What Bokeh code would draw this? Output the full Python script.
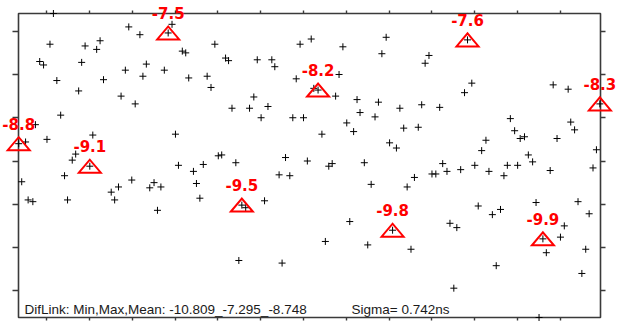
from bokeh.plotting import figure
from bokeh.models import (Range1d, FixedTicker, LinearAxis, ColumnDataSource,
                          CustomLabelingPolicy)
from bokeh.core.properties import value
from bokeh.embed import file_html
from bokeh.resources import INLINE

# epoch position (axis units) and DifLink value (ns)
x_vals = [3.5, 4.2, 5.1, 5.7, 6.8, 7.4, 8.4, 9.3, 10.1, 10.8,
          11.6, 12.4, 13.3, 14.2, 14.9, 16.0, 16.8, 17.5, 18.2, 19.0,
          20.1, 20.8, 21.7, 22.5, 23.3, 25.1, 25.9, 26.8, 27.4, 28.4,
          29.2, 29.9, 30.7, 31.8, 32.5, 33.3, 34.1, 35.1, 35.9, 36.7,
          37.5, 38.4, 39.3, 40.1, 40.8, 41.7, 42.5, 43.2, 44.3, 45.0,
          45.8, 46.6, 47.5, 48.4, 49.3, 50.1, 50.9, 51.8, 52.5, 53.3,
          54.2, 54.9, 55.6, 56.5, 57.4, 58.4, 59.2, 60.1, 60.9, 61.7,
          62.6, 63.3, 64.3, 65.0, 65.8, 66.8, 67.5, 68.3, 69.2, 70.0,
          70.9, 71.8, 72.4, 73.4, 74.3, 75.1, 75.9, 76.7, 77.5, 78.3,
          79.2, 80.1, 80.8, 81.7, 82.5, 83.2, 84.2, 85.0, 85.8, 86.7,
          87.5, 88.3, 89.3, 90.1, 90.8, 91.7, 92.5, 93.4, 94.2, 95.1,
          95.9, 96.8, 97.6, 98.4, 99.3, 100.0, 100.9, 101.8, 102.5, 103.5,
          104.2, 105.1, 105.8, 106.7, 107.6, 108.3, 109.3, 110.0, 110.8, 111.6,
          112.6, 113.3, 114.1, 115.0, 116.0, 116.8, 117.6, 118.3, 119.3, 120.0,
          120.6, 121.6, 122.5, 123.5, 124.3, 125.0, 125.9, 126.7, 127.6, 128.3,
          129.2, 130.0, 130.9, 131.8, 132.4, 133.3, 134.1, 135.0, 135.9, 136.7,
          137.6, 138.4, 139.2]
y_vals = [-8.80, -9.24, -8.78, -9.45, -9.47, -8.58, -7.85, -7.89, -8.75, -7.65,
          -7.295, -8.07, -8.47, -9.17, -9.45, -8.99, -8.92, -8.19, -7.86, -7.67,
          -9.06, -8.70, -7.71, -7.61, -8.06, -9.36, -9.45, -9.30, -8.25, -7.95,
          -7.45, -9.22, -8.34, -7.54, -8.02, -7.88, -9.31, -9.25, -9.57, -9.30,
          -7.95, -7.52, -7.42, -8.69, -9.05, -7.73, -7.75, -8.04, -9.12, -9.26,
          -9.43, -9.04, -8.02, -8.15, -7.65, -8.94, -8.93, -7.81, -7.84, -8.39,
          -9.02, -10.15, -9.51, -9.54, -8.39, -8.26, -7.83, -8.50, -9.46, -8.37,
          -7.83, -7.91, -9.16, -10.18, -8.96, -9.17, -8.50, -8.05, -7.65, -8.50,
          -9.00, -7.59, -8.16, -8.18, -8.69, -9.93, -9.06, -9.03, -8.25, -8.00,
          -7.68, -8.56, -9.70, -8.66, -8.29, -8.44, -9.02, -9.97, -9.27, -8.49,
          -8.32, -7.76, -7.57, -8.79, -9.80, -8.85, -8.39, -8.62, -9.30, -10.02,
          -9.19, -8.61, -8.35, -7.87, -7.78, -9.15, -9.15, -8.38, -9.03, -9.12,
          -9.72, -10.47, -9.77, -9.10, -8.21, -7.60, -8.10, -9.05, -9.52, -8.88,
          -8.76, -9.12, -9.62, -10.21, -9.56, -9.17, -9.05, -8.51, -8.65, -9.05,
          -8.74, -8.72, -8.93, -9.01, -9.48, -10.809, -9.90, -10.06, -9.11, -8.12,
          -8.74, -9.88, -9.75, -8.17, -8.55, -8.64, -9.47, -10.30, -10.02, -9.61,
          -9.08, -8.87, -8.34]
# indices of the labelled (triangle) epochs
marked = [0, 20, 41, 62, 83, 104, 125, 146, 162]

x_ticks = [10, 20, 30, 40, 50, 60, 70, 80, 90, 100, 110, 120, 130]
y_ticks = [-10.5, -10.0, -9.5, -9.0, -8.5, -8.0, -7.5]

stat_min, stat_max, stat_mean = -10.809, -7.295, -8.748
sigma = 0.742

X0, X1 = 3.45, 139.35
W, H = 622, 323
BL, BT, BR, BB = 18, 13, 22, 6
FW, FH = W - BL - BR, H - BT - BB
ux = (X1 - X0) / FW            # data units per pixel
uy = (stat_max - stat_min) / FH

# flat triangle outline around each labelled epoch
dx, dy = 11.0 * ux, 6.5 * uy
mx = [x_vals[i] for i in marked]
my = [y_vals[i] for i in marked]
tri = ColumnDataSource(dict(
    xs=[[x - dx, x + dx, x] for x in mx],
    ys=[[y - dy, y - dy, y + dy] for y in my],
))

src = ColumnDataSource(dict(x=x_vals, y=y_vals))
mk = ColumnDataSource(dict(x=mx, y=my, t=["%.1f" % v for v in my]))

p = figure(width=W, height=H, output_backend="svg", toolbar_location=None,
           x_range=Range1d(X0, X1), y_range=Range1d(stat_min, stat_max),
           x_axis_location=None, y_axis_location=None,
           min_border_left=BL, min_border_top=BT, min_border_right=BR,
           min_border_bottom=BB)
p.xgrid.visible = False
p.ygrid.visible = False
p.background_fill_color = "white"
p.border_fill_color = "white"
p.outline_line_color = "#3a3a3a"
p.outline_line_width = 1.6

def make_axis(ticks, out):
    ax = LinearAxis(ticker=FixedTicker(ticks=ticks))
    ax.axis_line_color = None
    ax.major_tick_in = 0
    ax.major_tick_out = out
    ax.major_tick_line_color = "#3a3a3a"
    ax.major_tick_line_width = 1.4
    ax.minor_tick_line_color = None
    ax.major_label_text_font_size = "0px"
    ax.major_label_standoff = 0
    ax.major_label_policy = CustomLabelingPolicy(code="return []")
    return ax

p.add_layout(make_axis(y_ticks, 6), "left")
p.add_layout(make_axis(y_ticks, 5), "right")
p.add_layout(make_axis(x_ticks, 3), "above")
p.add_layout(make_axis(x_ticks, 3), "below")

r1 = p.scatter("x", "y", source=src, marker="cross", size=7,
               line_color="black", line_width=1)
r1.level = "overlay"
r2 = p.patches("xs", "ys", source=tri, fill_color=None,
               line_color="#ff0000", line_width=2, line_join="miter")
r2.level = "overlay"

r3 = p.text("x", "y", text="t", source=mk, y_offset=-20,
            text_align="center", text_baseline="middle",
            text_font=value("DejaVu Sans"), text_font_style="bold",
            text_font_size=value("15px"), text_color="#ff0000")
r3.level = "overlay"

stats = ColumnDataSource(dict(
    x=[X0 + 6 * ux, X0 + 333 * ux],
    y=[stat_min + 8 * uy, stat_min + 8 * uy],
    t=["DifLink: Min,Max,Mean: %.3f_%.3f_%.3f" % (stat_min, stat_max, stat_mean),
       "Sigma= %.3fns" % sigma],
))
r4 = p.text("x", "y", text="t", source=stats, text_align="left",
            text_baseline="middle", text_font=value("Liberation Sans"),
            text_font_size=value("13.5px"), text_color="#1a1a1a")
r4.level = "overlay"

open("out.html", "w").write(file_html(p, INLINE))
